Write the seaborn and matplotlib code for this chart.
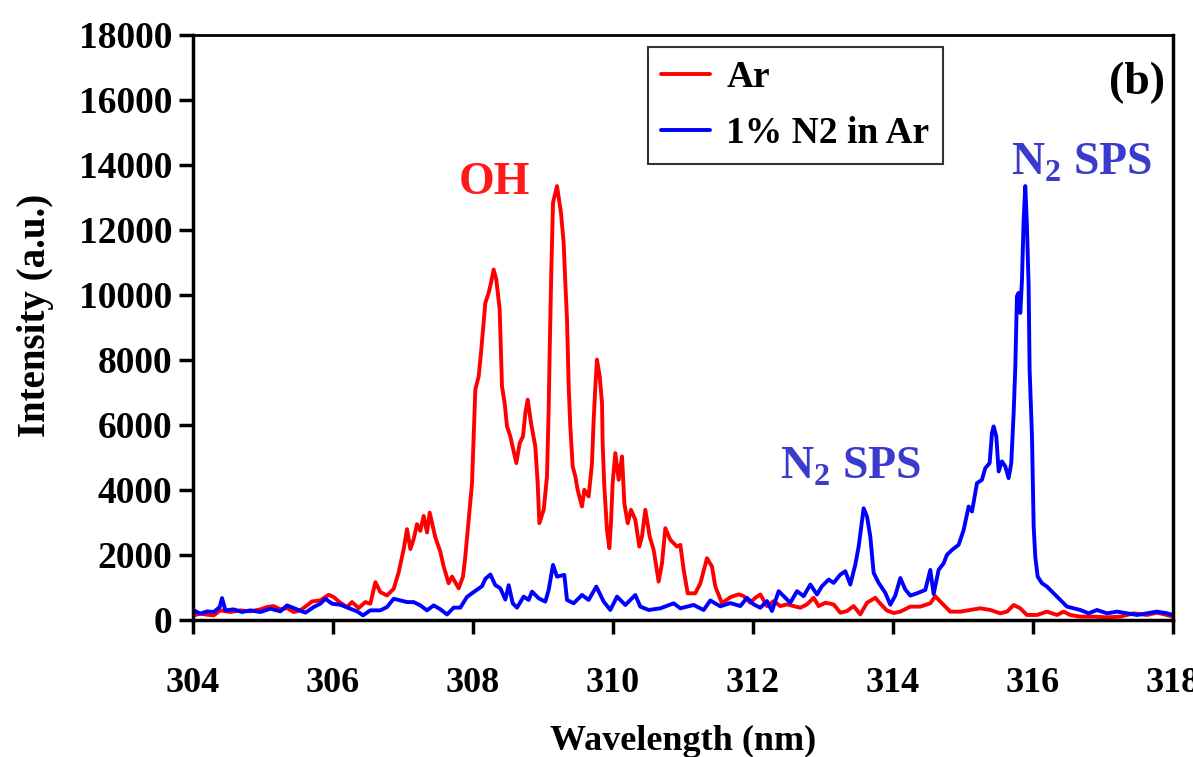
import numpy as np
import pandas as pd
import matplotlib
matplotlib.use("Agg")
import matplotlib.pyplot as plt
import seaborn as sns

# ---- data ----
ar_wl = [304.01, 304.105, 304.2, 304.295, 304.39, 304.533, 304.676, 304.819, 304.962, 305.057,
         305.152, 305.248, 305.343, 305.438, 305.533, 305.629, 305.7, 305.819, 305.938, 306.01,
         306.105, 306.2, 306.271, 306.367, 306.462, 306.533, 306.605, 306.676, 306.771, 306.867,
         306.938, 307.01, 307.057, 307.105, 307.152, 307.2, 307.248, 307.295, 307.343, 307.381,
         307.462, 307.533, 307.581, 307.652, 307.7, 307.795, 307.857, 307.89, 307.938, 307.986,
         308.01, 308.033, 308.081, 308.114, 308.152, 308.176, 308.224, 308.257, 308.295, 308.333,
         308.381, 308.4, 308.414, 308.452, 308.486, 308.533, 308.619, 308.667, 308.714, 308.748,
         308.781, 308.829, 308.89, 308.924, 308.948, 309.01, 309.057, 309.081, 309.095, 309.119,
         309.143, 309.2, 309.257, 309.295, 309.319, 309.343, 309.367, 309.39, 309.424, 309.462,
         309.495, 309.557, 309.59, 309.652, 309.7, 309.724, 309.748, 309.771, 309.81, 309.843,
         309.852, 309.876, 309.914, 309.948, 309.971, 309.995, 310.033, 310.081, 310.129, 310.162,
         310.21, 310.257, 310.319, 310.376, 310.414, 310.462, 310.524, 310.581, 310.652, 310.7,
         310.748, 310.819, 310.914, 310.962, 311.01, 311.067, 311.176, 311.248, 311.343, 311.414,
         311.462, 311.557, 311.676, 311.795, 311.867, 311.962, 312.033, 312.105, 312.2, 312.295,
         312.39, 312.486, 312.581, 312.676, 312.771, 312.867, 312.938, 313.033, 313.152, 313.248,
         313.343, 313.438, 313.533, 313.629, 313.748, 313.819, 313.914, 314.01, 314.105, 314.248,
         314.39, 314.533, 314.605, 314.7, 314.819, 314.962, 315.105, 315.248, 315.39, 315.533,
         315.629, 315.724, 315.819, 315.914, 316.057, 316.2, 316.343, 316.438, 316.533, 316.676,
         316.867, 317.057, 317.248, 317.438, 317.629, 317.771, 317.914, 318.0]
ar_int = [143, 194, 163, 143, 296, 245, 296, 265, 326, 398,
          428, 326, 367, 245, 296, 449, 571, 602, 775, 704,
          530, 398, 551, 367, 551, 500, 1163, 857, 755, 959,
          1469, 2183, 2795, 2183, 2489, 2948, 2744, 3203, 2693, 3305,
          2540, 2100, 1643, 1130, 1335, 975, 1335, 1951, 3081, 4210,
          5648, 7086, 7497, 8216, 9140, 9756, 10064, 10372, 10783, 10475,
          9551, 8216, 7189, 6675, 5956, 5648, 4827, 5443, 5648, 6367,
          6778, 6059, 5340, 4210, 2978, 3389, 4416, 6470, 8216, 10783,
          12837, 13351, 12529, 11605, 10372, 9243, 7189, 5956, 4724, 4416,
          4005, 3492, 4005, 3800, 4827, 6162, 7189, 8011, 7497, 6675,
          5443, 4108, 2773, 2208, 2978, 4210, 5135, 4313, 5032, 3595,
          2978, 3389, 3081, 2259, 2568, 3389, 2568, 2157, 1181, 1746,
          2824, 2465, 2259, 2311, 1540, 821, 821, 1130, 1900, 1643,
          1027, 513, 700, 790, 734, 530, 683, 785, 428, 581,
          428, 479, 428, 377, 479, 683, 428, 530, 479, 224,
          275, 428, 173, 530, 683, 500, 290, 215, 257, 411,
          411, 513, 730, 513, 257, 257, 308, 359, 308, 205,
          257, 462, 359, 154, 154, 257, 154, 257, 154, 103,
          103, 82, 103, 205, 154, 226, 154, 103]

n2_wl = [304.01, 304.105, 304.2, 304.295, 304.381, 304.414, 304.462, 304.581, 304.7, 304.819,
         304.962, 305.105, 305.248, 305.343, 305.486, 305.605, 305.724, 305.819, 305.89, 305.986,
         306.105, 306.248, 306.343, 306.429, 306.533, 306.676, 306.771, 306.867, 306.962, 307.057,
         307.152, 307.248, 307.343, 307.438, 307.533, 307.629, 307.724, 307.819, 307.914, 308.01,
         308.129, 308.176, 308.248, 308.319, 308.39, 308.462, 308.51, 308.567, 308.629, 308.724,
         308.795, 308.843, 308.938, 309.033, 309.081, 309.143, 309.2, 309.305, 309.343, 309.438,
         309.557, 309.652, 309.762, 309.867, 309.962, 310.057, 310.176, 310.319, 310.39, 310.51,
         310.676, 310.867, 310.962, 311.152, 311.295, 311.39, 311.533, 311.676, 311.819, 311.914,
         312.01, 312.105, 312.2, 312.271, 312.367, 312.462, 312.533, 312.629, 312.724, 312.819,
         312.914, 312.986, 313.081, 313.152, 313.248, 313.319, 313.39, 313.462, 313.51, 313.581,
         313.629, 313.676, 313.724, 313.795, 313.89, 313.962, 314.033, 314.105, 314.176, 314.248,
         314.343, 314.462, 314.533, 314.581, 314.652, 314.724, 314.771, 314.843, 314.938, 315.01,
         315.081, 315.129, 315.2, 315.271, 315.319, 315.381, 315.414, 315.438, 315.476, 315.51,
         315.557, 315.605, 315.652, 315.69, 315.724, 315.748, 315.771, 315.795, 315.819, 315.843,
         315.867, 315.89, 315.914, 315.938, 315.952, 315.986, 316.01, 316.033, 316.067, 316.129,
         316.2, 316.295, 316.39, 316.486, 316.581, 316.676, 316.795, 316.914, 317.057, 317.2,
         317.343, 317.486, 317.629, 317.771, 317.914, 318.0]
n2_int = [296, 194, 265, 245, 398, 673, 296, 326, 245, 296,
          245, 347, 265, 449, 326, 224, 398, 500, 653, 500,
          469, 347, 265, 143, 296, 296, 398, 653, 602, 551,
          551, 449, 296, 449, 330, 170, 380, 380, 710, 860,
          1040, 1265, 1400, 1070, 976, 630, 1070, 513, 380, 719,
          616, 873, 667, 565, 924, 1695, 1335, 1386, 616, 513,
          770, 616, 1027, 565, 308, 719, 462, 770, 411, 308,
          359, 513, 359, 462, 308, 600, 420, 520, 428, 683,
          479, 377, 581, 275, 887, 683, 530, 887, 734, 1091,
          785, 1040, 1244, 1142, 1397, 1499, 1091, 1703, 2264, 3437,
          3182, 2570, 1448, 1142, 836, 470, 750, 1290, 938, 750,
          821, 924, 1540, 800, 1540, 1746, 2003, 2157, 2311, 2773,
          3492, 3338, 4210, 4313, 4673, 4827, 5751, 5956, 5648, 4570,
          4878, 4724, 4365, 4827, 6367, 7805, 9962, 10065, 9448, 10475,
          12324, 13351, 12119, 10270, 7703, 5648, 2876, 1951, 1335, 1130,
          1027, 821, 616, 411, 359, 308, 205, 308, 205, 257,
          205, 154, 205, 257, 205, 154]

series_names = ["Ar", "1% N2 in Ar"]
x_ticks = [304, 306, 308, 310, 312, 314, 316, 318]
y_ticks = [0, 2000, 4000, 6000, 8000, 10000, 12000, 14000, 16000, 18000]

df = pd.concat([
    pd.DataFrame({"wl": ar_wl, "I": ar_int, "series": series_names[0]}),
    pd.DataFrame({"wl": n2_wl, "I": n2_int, "series": series_names[1]}),
], ignore_index=True)

sns.set_style("ticks")
plt.rcParams["font.family"] = ["Liberation Serif", "DejaVu Serif"]
plt.rcParams["font.weight"] = "bold"
plt.rcParams["mathtext.fontset"] = "custom"
plt.rcParams["mathtext.rm"] = "Liberation Serif:bold"
plt.rcParams["mathtext.bf"] = "Liberation Serif:bold"
for key in ["text.color", "axes.labelcolor", "xtick.color", "ytick.color",
            "xtick.labelcolor", "ytick.labelcolor"]:
    plt.rcParams[key] = "black"

fig = plt.figure(figsize=(11.93, 7.57), dpi=100)
ax = fig.add_axes([0.1618, 0.181, 0.9832 - 0.1618, 0.9538 - 0.181])

sns.lineplot(data=df, x="wl", y="I", hue="series", estimator=None, sort=False,
             palette={"Ar": "#ff0000", "1% N2 in Ar": "#0000ff"},
             linewidth=2.8, ax=ax)

ax.set_xlim(304, 318)
ax.set_ylim(0, 18000)
ax.set_xticks(x_ticks)
ax.set_yticks(y_ticks)
ax.set_xticklabels([str(t) for t in x_ticks], fontsize=26, fontweight="bold", color="black")
ax.set_yticklabels([str(t) for t in y_ticks], fontsize=27, fontweight="bold", color="black")
ax.tick_params(axis="x", direction="out", length=10, width=2.5, pad=24, color="black")
ax.tick_params(axis="y", direction="out", length=10, width=2.5, pad=5, color="black")

for side in ["left", "bottom", "right"]:
    ax.spines[side].set_linewidth(2.5)
    ax.spines[side].set_color("black")
ax.spines["top"].set_linewidth(2.0)
ax.spines["top"].set_color("black")
ax.spines["top"].set_visible(True)
ax.spines["right"].set_visible(True)

ax.set_xlabel("Wavelength (nm)", fontsize=26, fontweight="bold", color="black")
ax.set_ylabel("Intensity (a.u.)", fontsize=28, fontweight="bold", color="black")
ax.xaxis.set_label_coords(0.5, -0.18)
ax.yaxis.set_label_coords(-0.142, 0.52)

handles, labels = ax.get_legend_handles_labels()
leg = ax.legend(handles, labels, loc="upper left", bbox_to_anchor=(0.464, 0.979),
                borderaxespad=0, frameon=True, fancybox=False, edgecolor="black",
                prop={"family": "Liberation Serif", "weight": "bold", "size": 27},
                handlelength=1.3, handletextpad=0.45, labelspacing=0.55,
                borderpad=0.35, labelcolor="black")
leg.get_frame().set_linewidth(1.5)
for line in leg.get_lines():
    line.set_linewidth(2.8)

ax.text(308.31, 13450, "OH", color="#ff1a1a", fontsize=33, fontweight="bold",
        ha="center", va="center")
ax.text(313.4, 4700, r"N$_\mathbf{2}$ SPS", color="#3a3acd", fontsize=33,
        fontweight="bold", ha="center", va="center")
ax.text(316.7, 14050, r"N$_\mathbf{2}$ SPS", color="#3a3acd", fontsize=33,
        fontweight="bold", ha="center", va="center")
ax.text(317.49, 16520, "(b)", color="black", fontsize=33, fontweight="bold",
        ha="center", va="center")

fig.savefig("out.png", dpi=100)
